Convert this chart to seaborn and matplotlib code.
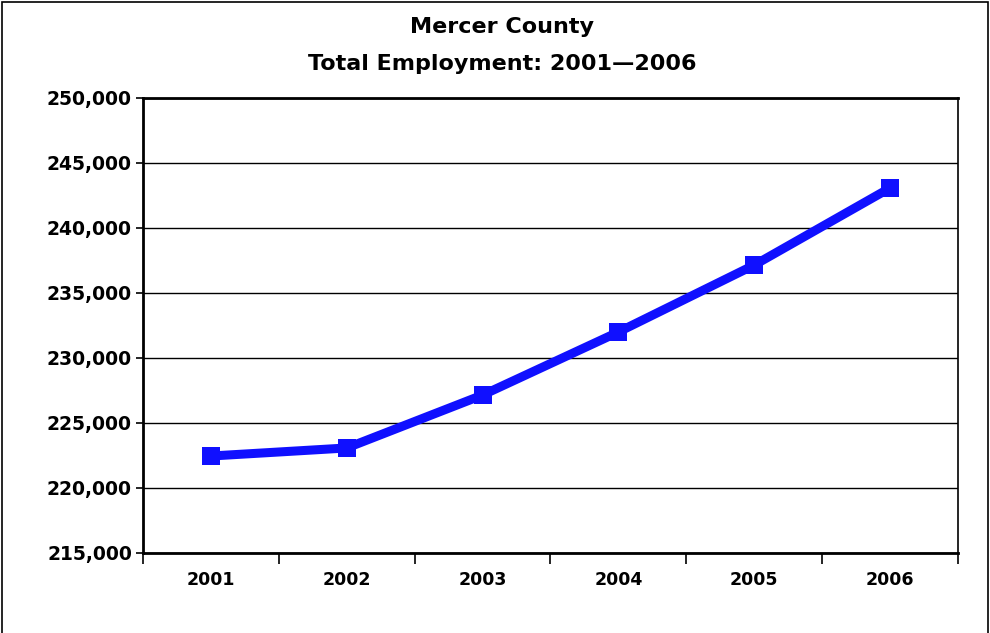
import matplotlib
matplotlib.use("Agg")
import matplotlib.pyplot as plt
import seaborn as sns
import pandas as pd
from matplotlib.ticker import FuncFormatter, FixedLocator
from matplotlib.patches import Rectangle

years = ["2001", "2002", "2003", "2004", "2005", "2006"]
employment = [222460, 223080, 227150, 232000, 237150, 243080]
title_lines = ["Mercer County", "Total Employment: 2001\u20142006"]

df = pd.DataFrame({"Year": years, "Employment": employment})

sns.set_theme(style="white")
plt.rcParams['font.family'] = ['DejaVu Sans']

fig = plt.figure(figsize=(9.9, 6.33), dpi=100)
ax = fig.add_axes([143/990, 1-553/633, (958-143)/990, (553-98)/633])

sns.lineplot(data=df, x="Year", y="Employment", ax=ax, color="#1010FF",
             linewidth=6.5, marker="s", markersize=13, markeredgewidth=0,
             sort=False)

ax.set_ylim(215000, 250000)
ax.set_xlim(-0.5, len(years) - 0.5)
ax.set_yticks(range(215000, 250001, 5000))
ax.yaxis.set_major_formatter(FuncFormatter(lambda v, p: f"{int(v):,}"))
ax.yaxis.grid(True, color="black", linewidth=1)
ax.set_axisbelow(True)

ax.set_xticks(range(len(years)))
ax.set_xticklabels(years)
ax.xaxis.set_minor_locator(FixedLocator([i - 0.5 for i in range(len(years) + 1)]))
ax.tick_params(axis="x", which="major", length=0, pad=13, labelsize=12.5)
ax.tick_params(axis="x", which="minor", length=8, width=1.2, color="black", direction="out", bottom=True)
ax.tick_params(axis="y", which="major", length=5, width=1.2, color="black", direction="out", left=True, pad=3, labelsize=13.5)
for lab in ax.get_xticklabels() + ax.get_yticklabels():
    lab.set_fontweight("bold")
    lab.set_color("black")

for side in ["left", "bottom", "top", "right"]:
    ax.spines[side].set_visible(True)
    ax.spines[side].set_color("black")
ax.spines["left"].set_linewidth(2)
ax.spines["bottom"].set_linewidth(2)
ax.spines["top"].set_linewidth(2)
ax.spines["right"].set_linewidth(1.2)

ax.set_xlabel("")
ax.set_ylabel("")

fig.text(0.507, 1 - 27/633, title_lines[0], ha="center", va="center",
         fontsize=16, fontweight="bold", color="black")
fig.text(0.507, 1 - 64/633, title_lines[1], ha="center", va="center",
         fontsize=16, fontweight="bold", color="black")

fig.patches.append(Rectangle((2/990, -0.02), 986/990, 1.0 - 2/633 + 0.02,
                             transform=fig.transFigure, fill=False,
                             edgecolor="black", linewidth=1.2))

fig.savefig("out.png", dpi=100, facecolor="white")
